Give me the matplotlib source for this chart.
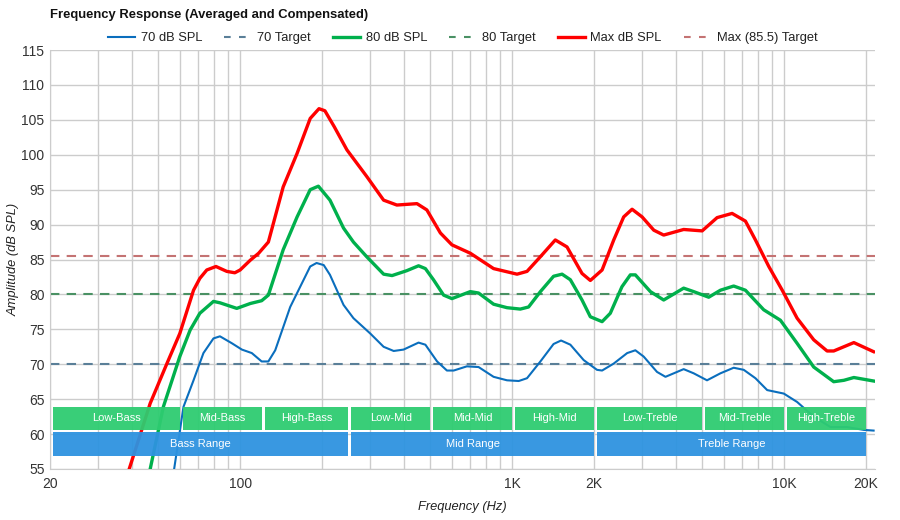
import numpy as np
import matplotlib
matplotlib.use("Agg")
import matplotlib.pyplot as plt
from matplotlib.ticker import FixedLocator, NullFormatter

plt.rcParams['font.family'] = ['Liberation Sans', 'DejaVu Sans']

# Max dB SPL
max_f = [39.1, 46.7, 53.8, 60, 67.4, 71.1, 75.4, 81.5, 89.3, 95.6, 100, 109, 117, 127,
         144, 162, 181, 195, 205, 222, 247, 292, 337, 377, 447, 486, 545, 601, 702, 855,
         1043, 1135, 1271, 1442, 1592, 1808, 1940, 2143, 2365, 2573, 2762, 3007, 3320,
         3610, 4275, 5000, 5675, 6443, 7213, 7850, 8790, 9850, 11170, 12860, 14400,
         15230, 18060, 21350]
max_db = [55.0, 64.4, 70.1, 74.4, 80.6, 82.3, 83.5, 84.0, 83.3, 83.1, 83.5, 84.9, 85.9, 87.5,
          95.4, 100.2, 105.2, 106.6, 106.3, 104.0, 100.7, 96.9, 93.5, 92.8, 93.0, 92.1, 88.8,
          87.1, 85.9, 83.7, 82.9, 83.3, 85.4, 87.8, 86.8, 83.0, 82.0, 83.5, 87.8, 91.1, 92.2,
          91.1, 89.2, 88.5, 89.3, 89.1, 91.0, 91.6, 90.5, 87.8, 84.0, 80.6, 76.6, 73.5, 71.9,
          71.9, 73.1, 71.8]

# 80 dB SPL
s80_f = [46.7, 52.2, 60, 65.5, 71.1, 79.8, 84.3, 97.2, 109, 120, 127, 144, 162, 181, 194,
         214, 240, 261, 292, 337, 362, 410, 453, 480, 514, 560, 601, 702, 753, 855, 958,
         1072, 1150, 1271, 1421, 1527, 1638, 1808, 1940, 2143, 2297, 2535, 2722, 2840,
         3226, 3610, 4275, 4655, 5285, 5835, 6530, 7213, 8420, 9700, 11170, 12860, 15230,
         16600, 18060, 21350]
s80_db = [55.0, 63.9, 71.1, 74.9, 77.3, 79.0, 78.8, 78.0, 78.7, 79.1, 79.9, 86.4, 91.1, 95.0,
          95.5, 93.5, 89.5, 87.5, 85.4, 82.9, 82.7, 83.4, 84.1, 83.7, 82.1, 79.9, 79.4, 80.4,
          80.2, 78.6, 78.1, 77.9, 78.2, 80.4, 82.6, 82.9, 82.1, 79.2, 76.8, 76.1, 77.3, 81.1,
          82.8, 82.8, 80.4, 79.2, 80.9, 80.4, 79.6, 80.6, 81.2, 80.6, 77.8, 76.3, 73.0, 69.6,
          67.5, 67.7, 68.1, 67.6]

# 70 dB SPL
s70_f = [57.2, 61.9, 67.4, 73.3, 79.8, 84.3, 93.3, 101.5, 110.4, 120, 127, 134.6, 152.8, 181,
         191, 203, 214, 240, 261, 301, 337, 367, 399, 453, 480, 530, 576, 610, 682, 753, 855,
         958, 1058, 1135, 1271, 1421, 1514, 1638, 1833, 2052, 2143, 2365, 2650, 2840, 3047,
         3412, 3665, 4275, 4655, 5210, 5835, 6530, 7110, 7850, 8670, 9980, 11170, 12860,
         14820, 17070, 19650, 21350]
s70_db = [55.0, 63.9, 67.7, 71.6, 73.7, 74.0, 73.0, 72.1, 71.6, 70.4, 70.4, 72.0, 78.2, 84.0,
          84.5, 84.2, 82.8, 78.5, 76.6, 74.4, 72.5, 71.9, 72.1, 73.1, 72.8, 70.4, 69.1, 69.1,
          69.7, 69.6, 68.2, 67.7, 67.6, 68.0, 70.4, 72.9, 73.4, 72.8, 70.6, 69.2, 69.1, 70.1,
          71.6, 72.0, 71.1, 68.9, 68.2, 69.3, 68.7, 67.7, 68.7, 69.5, 69.2, 68.0, 66.3, 65.8,
          64.6, 62.5, 61.0, 61.0, 60.6, 60.5]

targets = [70, 80, 85.5]

# frequency bands
sub_edges = [20, 60, 120, 250, 500, 1000, 2000, 5000, 10000, 20000]
sub_names = ['Low-Bass', 'Mid-Bass', 'High-Bass', 'Low-Mid', 'Mid-Mid', 'High-Mid',
             'Low-Treble', 'Mid-Treble', 'High-Treble']
range_edges = [20, 250, 2000, 20000]
range_names = ['Bass Range', 'Mid Range', 'Treble Range']

xticks = [20, 100, 1000, 2000, 10000, 20000]
xtick_labels = ['20', '100', '1K', '2K', '10K', '20K']

fig = plt.figure(figsize=(9, 5.2), dpi=100)
ax = fig.add_axes([0.0556, 0.0981, 0.9166, 0.8057])
ax.set_xscale('log')
ax.set_xlim(20, 21600)
ax.set_ylim(55, 115)

dash = (4.5, 3.5)
ax.plot(s70_f, s70_db, color='#0a6ebd', lw=1.5, label='70 dB SPL', zorder=3)
ax.axhline(targets[0], color='#5a7f98', lw=1.5, dashes=dash, label='70 Target', zorder=2)
ax.plot(s80_f, s80_db, color='#00b04c', lw=2.4, label='80 dB SPL', zorder=3)
ax.axhline(targets[1], color='#4a9164', lw=1.5, dashes=dash, label='80 Target', zorder=2)
ax.plot(max_f, max_db, color='#ff0000', lw=2.4, label='Max dB SPL', zorder=3)
ax.axhline(targets[2], color='#c47373', lw=1.5, dashes=dash, label='Max (85.5) Target', zorder=2)

gap = 1.026
for i, name in enumerate(sub_names):
    lo, hi = sub_edges[i] * gap, sub_edges[i + 1]
    ax.fill_between([lo, hi], 60.6, 63.9, color='#2ecc71', alpha=0.95, lw=0, zorder=4)
    ax.text(np.sqrt(lo * hi), 62.25, name, color='white', ha='center', va='center',
            fontsize=8, zorder=5)
for i, name in enumerate(range_names):
    lo, hi = range_edges[i] * gap, range_edges[i + 1]
    ax.fill_between([lo, hi], 56.9, 60.3, color='#2e93e0', alpha=0.95, lw=0, zorder=4)
    ax.text(np.sqrt(lo * hi), 58.6, name, color='white', ha='center', va='center',
            fontsize=8, zorder=5)

ax.xaxis.set_major_locator(FixedLocator(xticks))
ax.set_xticklabels(xtick_labels)
minor = [m * 10 ** e for e in range(1, 5) for m in range(2, 10) if 20 <= m * 10 ** e <= 20000]
ax.xaxis.set_minor_locator(FixedLocator(minor))
ax.xaxis.set_minor_formatter(NullFormatter())
ax.set_yticks(np.arange(55, 116, 5))
ax.grid(True, which='both', color='#cccccc', lw=1)
ax.set_axisbelow(True)
ax.tick_params(which='both', length=0, labelsize=10, colors='#333333')
ax.tick_params(axis='y', pad=4)
ax.tick_params(axis='x', pad=6)
for s in ['top', 'right']:
    ax.spines[s].set_visible(False)
for s in ['left', 'bottom']:
    ax.spines[s].set_color('#cccccc')

ax.set_xlabel('Frequency (Hz)', style='italic', fontsize=9.3, color='#222222', labelpad=7)
ax.set_ylabel('Amplitude (dB SPL)', style='italic', fontsize=9.3, color='#222222', labelpad=1)

leg = ax.legend(loc='lower center', bbox_to_anchor=(0.5, 1.0), ncol=6, frameon=False,
                fontsize=9.3, handlelength=2.15, columnspacing=1.7, handletextpad=0.4,
                borderaxespad=0.05, labelcolor='#222222')
for h in leg.get_lines()[1::2]:
    h.set_dashes((3.2, 4.0))

fig.text(0.0556, 0.972, 'Frequency Response (Averaged and Compensated)', fontsize=9.4,
         weight='bold', va='center', ha='left', color='#111111')

fig.savefig('out.png', dpi=100)
